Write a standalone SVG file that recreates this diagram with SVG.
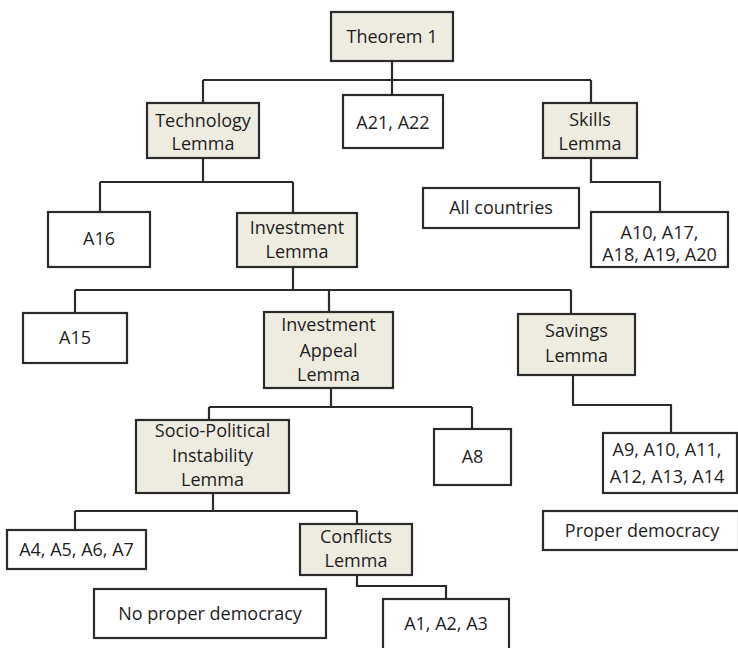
<svg xmlns="http://www.w3.org/2000/svg" width="738" height="648" viewBox="0 0 738 648">
  <style>
    .box { fill: #ffffff; stroke: #2b2b2b; stroke-width: 2.2; }
    .lemma { fill: #eeece1; stroke: #2b2b2b; stroke-width: 2.2; }
    .lbl { font-family: "Open Sans", "Liberation Sans", sans-serif; font-size: 18px; fill: #1e1e1e; text-anchor: middle; }
    .wire { fill: none; stroke: #2b2b2b; stroke-width: 2.2; }
  </style>
  <rect width="738" height="648" fill="#ffffff"/>

  <!-- tree connectors -->
  <g id="connectors">
    <path class="wire" d="M392,61 V95 M203,80 H591 M203,80 V103 M591,80 V103"/>
    <path class="wire" d="M203,158 V182 M100,182 H293 M100,182 V212 M293,182 V213"/>
    <path class="wire" d="M591,158 V182 H660 V212"/>
    <path class="wire" d="M293,267 V290 M75,290 H571 M75,290 V313 M329,290 V312 M571,290 V314"/>
    <path class="wire" d="M331,388 V407 M209,407 H472 M209,407 V420 M472,407 V429"/>
    <path class="wire" d="M573,375 V405 H671 V433"/>
    <path class="wire" d="M213,493 V511 M75,511 H357 M75,511 V530 M357,511 V524"/>
    <path class="wire" d="M357,575 V586 H446 V599"/>
  </g>

  <g id="theorem1">
    <rect class="lemma" x="331" y="12" width="122" height="49"/>
    <text class="lbl" x="392" y="43">Theorem 1</text>
  </g>
  <g id="technology">
    <rect class="lemma" x="147" y="103" width="112" height="55"/>
    <text class="lbl" x="203" y="127">Technology</text>
    <text class="lbl" x="203" y="150">Lemma</text>
  </g>
  <g id="a21-a22">
    <rect class="box" x="343" y="95" width="100" height="53"/>
    <text class="lbl" x="393" y="129">A21, A22</text>
  </g>
  <g id="skills">
    <rect class="lemma" x="543" y="103" width="94" height="55"/>
    <text class="lbl" x="590" y="126">Skills</text>
    <text class="lbl" x="590" y="150">Lemma</text>
  </g>
  <g id="all-countries">
    <rect class="box" x="423" y="188" width="156" height="40"/>
    <text class="lbl" x="501" y="214">All countries</text>
  </g>
  <g id="a10-a20">
    <rect class="box" x="591" y="212" width="137" height="55"/>
    <text class="lbl" x="659.5" y="239">A10, A17,</text>
    <text class="lbl" x="659.5" y="261">A18, A19, A20</text>
  </g>
  <g id="a16">
    <rect class="box" x="48" y="212" width="102" height="55"/>
    <text class="lbl" x="99" y="245">A16</text>
  </g>
  <g id="investment">
    <rect class="lemma" x="237" y="213" width="120" height="54"/>
    <text class="lbl" x="297" y="234">Investment</text>
    <text class="lbl" x="297" y="258">Lemma</text>
  </g>
  <g id="a15">
    <rect class="box" x="23" y="313" width="104" height="50"/>
    <text class="lbl" x="75" y="344">A15</text>
  </g>
  <g id="investment-appeal">
    <rect class="lemma" x="264" y="312" width="129" height="76"/>
    <text class="lbl" x="328.5" y="331">Investment</text>
    <text class="lbl" x="328.5" y="357">Appeal</text>
    <text class="lbl" x="328.5" y="381">Lemma</text>
  </g>
  <g id="savings">
    <rect class="lemma" x="518" y="314" width="117" height="61"/>
    <text class="lbl" x="576.5" y="337">Savings</text>
    <text class="lbl" x="576.5" y="362">Lemma</text>
  </g>
  <g id="socio-political">
    <rect class="lemma" x="136" y="420" width="153" height="73"/>
    <text class="lbl" x="212.5" y="437">Socio-Political</text>
    <text class="lbl" x="212.5" y="462">Instability</text>
    <text class="lbl" x="212.5" y="486">Lemma</text>
  </g>
  <g id="a8">
    <rect class="box" x="434" y="429" width="77" height="56"/>
    <text class="lbl" x="472.5" y="463">A8</text>
  </g>
  <g id="a9-a14">
    <rect class="box" x="603" y="433" width="134" height="60"/>
    <text class="lbl" x="667" y="456">A9, A10, A11,</text>
    <text class="lbl" x="667" y="483">A12, A13, A14</text>
  </g>
  <g id="proper-democracy">
    <rect class="box" x="543" y="511" width="196" height="39"/>
    <text class="lbl" x="642" y="537">Proper democracy</text>
  </g>
  <g id="a4-a7">
    <rect class="box" x="7" y="530" width="139" height="39"/>
    <text class="lbl" x="76.5" y="556">A4, A5, A6, A7</text>
  </g>
  <g id="conflicts">
    <rect class="lemma" x="300" y="524" width="112" height="51"/>
    <text class="lbl" x="356" y="543">Conflicts</text>
    <text class="lbl" x="356" y="567">Lemma</text>
  </g>
  <g id="no-proper-democracy">
    <rect class="box" x="94" y="589" width="232" height="49"/>
    <text class="lbl" x="210" y="620">No proper democracy</text>
  </g>
  <g id="a1-a3">
    <rect class="box" x="383" y="599" width="126" height="60"/>
    <text class="lbl" x="446" y="630">A1, A2, A3</text>
  </g>
</svg>
